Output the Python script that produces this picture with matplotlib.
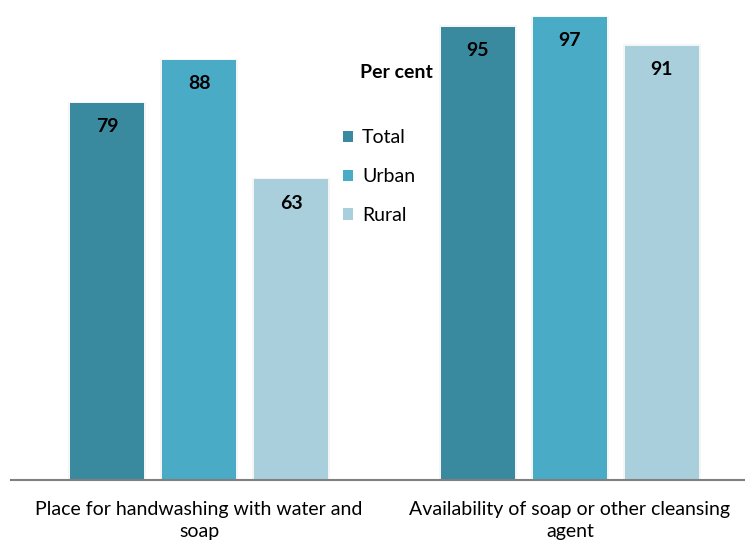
import matplotlib
matplotlib.use("Agg")
import matplotlib.pyplot as plt
import numpy as np

categories = ["Place for handwashing with water and\nsoap",
              "Availability of soap or other cleansing\nagent"]
series = ["Total", "Urban", "Rural"]
total = [79, 95]
urban = [88, 97]
rural = [63, 91]
colors = ["#3a8a9f", "#4aabc6", "#a9cfdd"]

plt.rcParams['font.family'] = ['Lato', 'DejaVu Sans']

fig = plt.figure(figsize=(7.45, 5.44), dpi=100)
ax = fig.add_axes([11/745, 64/544, 734/745, 480/544])

x = np.arange(len(categories))
width = 0.2
step = 0.248
values = [total, urban, rural]
for i, (name, vals, c) in enumerate(zip(series, values, colors)):
    pos = x + (i - 1) * step
    # soft shadow
    ax.bar(pos, np.array(vals) + 0.3, width + 0.012, color="#000000", alpha=0.04, zorder=1)
    ax.bar(pos, vals, width, color=c, label=name, zorder=2)
    for p, v in zip(pos, vals):
        ax.text(p, v - 3.2, str(v), ha="center", va="top", fontsize=14,
                fontweight="bold", color="black", zorder=3)

ax.set_xlim(-0.507, 1.472)
ax.set_ylim(0, 100.6)
for s in ["top", "right", "left"]:
    ax.spines[s].set_visible(False)
ax.spines["bottom"].set_color("#7f7f7f")
ax.spines["bottom"].set_linewidth(1.5)
ax.set_yticks([])
ax.set_xticks(x)
ax.set_xticklabels(categories, fontsize=14, linespacing=1.4)
ax.tick_params(axis="x", length=0, pad=15)

fig.text(360/745, 1 - 73/544, "Per cent", fontsize=14, fontweight="bold",
         ha="left", va="center")
leg = ax.legend(loc="upper left", bbox_to_anchor=(325/745, 1 - 112/544),
                bbox_transform=fig.transFigure, frameon=False, fontsize=14,
                handlelength=0.55, handleheight=0.55, handletextpad=0.45,
                labelspacing=1.12)

fig.savefig("out.png", dpi=100)
